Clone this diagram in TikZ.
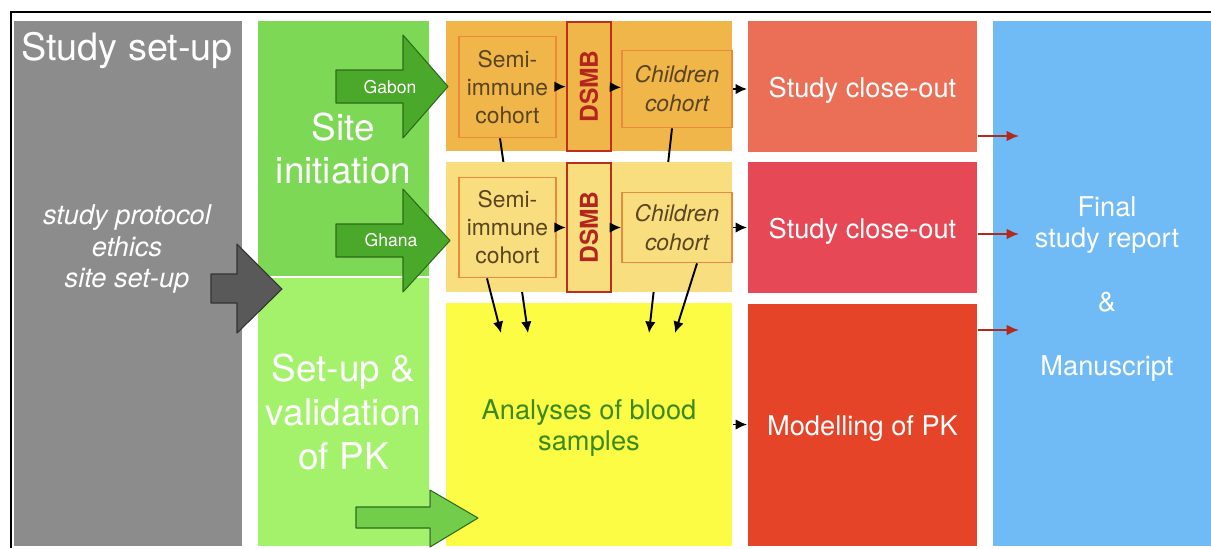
\documentclass[tikz,border=0pt]{standalone}
\usepackage{fontspec}
\setmainfont{TeX Gyre Heros}
\usetikzlibrary{arrows.meta}
\definecolor{setupgrey}{HTML}{8C8C8C}
\definecolor{sitegreen}{HTML}{7DD856}
\definecolor{pkgreen}{HTML}{A4F26C}
\definecolor{gaborange}{HTML}{F0B64A}
\definecolor{ghayellow}{HTML}{F9DE80}
\definecolor{bloodyellow}{HTML}{FDFC45}
\definecolor{closeA}{HTML}{EB6E56}
\definecolor{closeB}{HTML}{E74856}
\definecolor{modelred}{HTML}{E54428}
\definecolor{finalblue}{HTML}{70BBF5}
\definecolor{cohortline}{HTML}{EC8A3C}
\definecolor{cohorttext}{HTML}{5A4520}
\definecolor{dsmbred}{HTML}{B3261E}
\definecolor{arrowred}{HTML}{B02A1E}
\definecolor{bloodtext}{HTML}{3C8A1E}
\definecolor{arrowgreen}{HTML}{4AA82A}
\definecolor{arrowlight}{HTML}{72CD4A}
\definecolor{arrowdark}{HTML}{2D6B1A}

\tikzset{
  box/.style={rectangle,inner sep=0pt,text=white,align=center},
  cohort/.style={rectangle,draw=cohortline,line width=1pt,inner sep=0pt,align=center,
    text=cohorttext,font=\fontsize{13}{16}\selectfont},
  dsmb/.style={rectangle,draw=dsmbred!90!orange,line width=1.3pt,inner sep=0pt,
    minimum width=0.88cm,text=dsmbred},
  bigarr/.style={draw=arrowdark,line width=0.6pt,line join=round,fill=arrowgreen},
  redarr/.style={->,draw=arrowred,line width=1.1pt,>={Latex[length=7pt,width=6pt]}}
}

\begin{document}
\begin{tikzpicture}[>={Latex[length=6.5pt,width=6pt]},line width=1.1pt]
\useasboundingbox (0,0) rectangle (24.22,-10.96);

% outer frame
\draw[line width=0.7pt] (0.22,-10.96) -- (0.22,-0.24) -- (24.22,-0.24);

% study set-up column
\node[box,fill=setupgrey,minimum width=4.56cm,minimum height=10.5cm] (setup) at (2.56,-5.67) {};
\node[text=white,font=\fontsize{21.5}{25}\selectfont] (setuptitle) at (2.54,-1.01) {Study set-up};
\node[text=white,align=center,font=\fontsize{15.5}{18}\selectfont\itshape] (setuplist) at (2.54,-4.98)
  {study protocol\\ethics\\site set-up};

% site initiation and PK set-up
\node[box,fill=sitegreen,minimum width=3.42cm,minimum height=5.1cm,
  font=\fontsize{21}{25}\selectfont] (site) at (6.87,-2.97) {Site\\initiation};
\node[box,fill=pkgreen,minimum width=3.42cm,minimum height=5.36cm,
  font=\fontsize{21}{25}\selectfont] (pkset) at (6.87,-8.24) {Set-up \&\\validation\\of PK};

% Gabon row
\node[box,fill=gaborange,minimum width=5.72cm,minimum height=2.6cm] (gabon) at (11.78,-1.72) {};
\node[cohort,minimum width=1.94cm,minimum height=2.02cm] (semi1) at (10.15,-1.74) {Semi-\\immune\\cohort};
\node[dsmb,minimum height=2.58cm] (dsmb1) at (11.78,-1.73) {\rotatebox{90}{\fontsize{14}{14}\selectfont\bfseries DSMB}};
\node[cohort,minimum width=2.2cm,minimum height=1.54cm,font=\fontsize{13}{16.4}\selectfont\itshape] (child1) at (13.54,-1.78) {Children\\cohort};

% blood analyses
\node[box,fill=bloodyellow,minimum width=5.72cm,minimum height=4.86cm,text=bloodtext,
  font=\fontsize{15.5}{17.8}\selectfont] (blood) at (11.78,-8.49) {\\[-0.1cm]Analyses of blood\\samples};
\coordinate (blood1) at (10.56,-6.66);
\coordinate (blood2) at (12.98,-6.66);
\coordinate (blood3) at (10.02,-6.66);
\coordinate (blood4) at (13.50,-6.66);

% samples of the Gabon cohorts (run behind the Ghana row)
\draw[->] ([xshift=-0.15cm]semi1.south) -- (blood1);
\draw[->] ([xshift=-0.1cm]child1.south) -- (blood2);

% Ghana row
\node[box,fill=ghayellow,minimum width=5.72cm,minimum height=2.6cm] (ghana) at (11.78,-4.54) {};
\node[cohort,minimum width=1.94cm,minimum height=2.0cm] (semi2) at (10.15,-4.55) {Semi-\\immune\\cohort};
\node[dsmb,minimum height=2.58cm] (dsmb2) at (11.78,-4.55) {\rotatebox{90}{\fontsize{14}{14}\selectfont\bfseries DSMB}};
\node[cohort,minimum width=2.2cm,minimum height=1.4cm,font=\fontsize{13}{16.4}\selectfont\itshape] (child2) at (13.54,-4.55) {Children\\cohort};

\draw[->] ([xshift=-0.41cm]semi2.south) -- (blood3);
\draw[->] ([xshift=0.4cm]child2.south) -- (blood4);

% close-out and modelling
\node[box,fill=closeA,minimum width=4.58cm,minimum height=2.62cm,
  font=\fontsize{15.5}{17.6}\selectfont] (close1) at (17.25,-1.73) {\\[-0.08cm]Study close-out};
\node[box,fill=closeB,minimum width=4.58cm,minimum height=2.62cm,
  font=\fontsize{15.5}{17.6}\selectfont] (close2) at (17.25,-4.55) {\\[-0.08cm]Study close-out};
\node[box,fill=modelred,minimum width=4.58cm,minimum height=4.84cm,
  font=\fontsize{15.5}{17.6}\selectfont] (model) at (17.25,-8.5) {\\[-0.08cm]Modelling of PK};

% final report
\node[box,fill=finalblue,minimum width=4.56cm,minimum height=10.5cm] (final) at (22.14,-5.67) {};
\node[text=white,align=center,font=\fontsize{15.5}{17.6}\selectfont] (finaltext) at (22.14,-5.78)
  {Final\\study report\\[0.66cm]\&\\[0.66cm]Manuscript};

% flow inside the rows
\draw[->] (semi1) -- (dsmb1);
\draw[->] (dsmb1) -- (child1);
\draw[->] (child1.east) -- (child1.east -| close1.west);
\draw[->] (semi2) -- (dsmb2);
\draw[->] (dsmb2) -- (child2);
\draw[->] (child2.east) -- (child2.east -| close2.west);
\draw[->] (blood.east) -- (blood.east -| model.west);

% towards the report
\coordinate (fin1) at (20.38,-2.72);
\coordinate (fin2) at (20.38,-4.68);
\coordinate (fin3) at (20.38,-6.6);
\draw[redarr] (close1.east |- fin1) -- (fin1);
\draw[redarr] (close2.east |- fin2) -- (fin2);
\draw[redarr] (model.east |- fin3) -- (fin3);

% block arrows
\draw[bigarr,fill=black!65,draw=black!80] (4.22,-5.48) -- (4.74,-5.48) -- (4.74,-4.88) -- (5.64,-5.78)
  -- (4.74,-6.66) -- (4.74,-6.06) -- (4.22,-6.06) -- cycle;
\draw[bigarr] (6.72,-1.40) -- (8.06,-1.40) -- (8.06,-0.70) -- (8.96,-1.73)
  -- (8.06,-2.76) -- (8.06,-2.06) -- (6.72,-2.06) -- cycle;
\draw[bigarr] (6.72,-4.48) -- (8.06,-4.48) -- (8.06,-3.78) -- (9.0,-4.81)
  -- (8.06,-5.84) -- (8.06,-5.14) -- (6.72,-5.14) -- cycle;
\draw[bigarr,fill=arrowlight] (7.12,-10.14) -- (8.6,-10.14) -- (8.6,-9.8) -- (9.56,-10.36)
  -- (8.6,-10.94) -- (8.6,-10.56) -- (7.12,-10.56) -- cycle;
\node[text=white,font=\fontsize{10}{12}\selectfont] (gabonlbl) at (7.8,-1.74) {Gabon};
\node[text=white,font=\fontsize{10}{12}\selectfont] (ghanalbl) at (7.82,-4.8) {Ghana};
\end{tikzpicture}
\end{document}
